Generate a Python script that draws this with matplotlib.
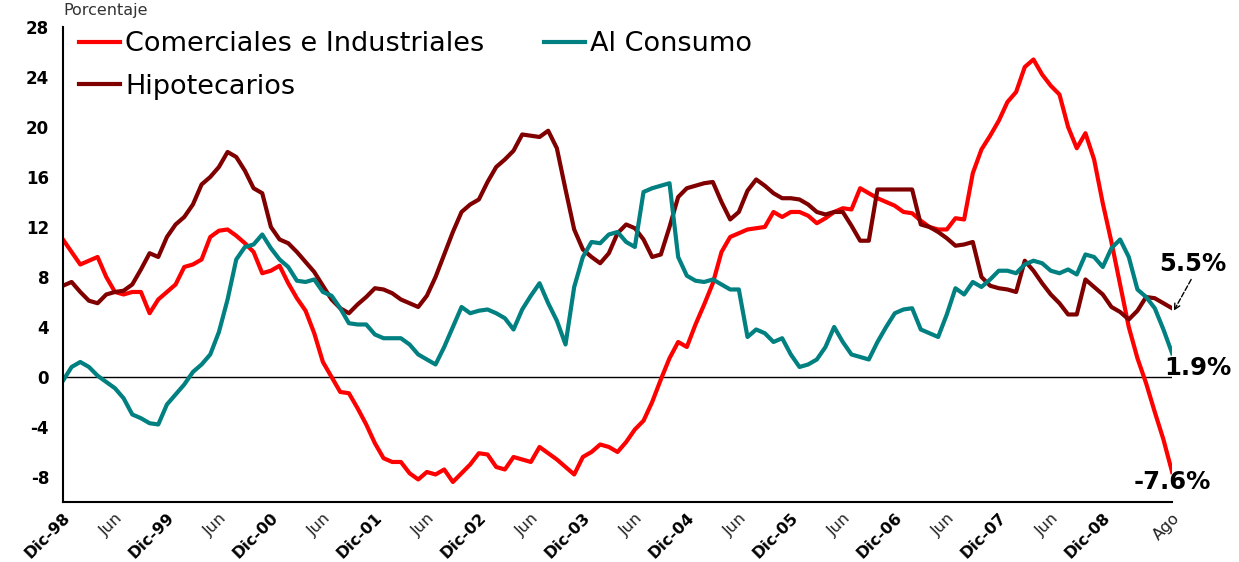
import matplotlib
matplotlib.use("Agg")
import matplotlib.pyplot as plt
import numpy as np

# monthly, Dic-98 .. Ago-09
comerciales = [
    11.0, 10.0, 9.0, 9.3, 9.6, 8.0, 6.8, 6.6, 6.8, 6.8, 5.1, 6.2,
    6.8, 7.4, 8.8, 9.0, 9.4, 11.2, 11.7, 11.8, 11.3, 10.7, 10.0, 8.3,
    8.5, 8.9, 7.5, 6.3, 5.3, 3.5, 1.2, 0.0, -1.2, -1.3, -2.5, -3.8,
    -5.3, -6.5, -6.8, -6.8, -7.7, -8.2, -7.6, -7.8, -7.4, -8.4, -7.7, -7.0,
    -6.1, -6.2, -7.2, -7.4, -6.4, -6.6, -6.8, -5.6, -6.1, -6.6, -7.2, -7.8,
    -6.4, -6.0, -5.4, -5.6, -6.0, -5.2, -4.2, -3.5, -2.0, -0.2, 1.5, 2.8,
    2.4, 4.2, 5.8, 7.5, 10.0, 11.2, 11.5, 11.8, 11.9, 12.0, 13.2, 12.8,
    13.2, 13.2, 12.9, 12.3, 12.7, 13.2, 13.5, 13.4, 15.1, 14.7, 14.3, 14.0,
    13.7, 13.2, 13.1, 12.5, 12.0, 11.8, 11.8, 12.7, 12.6, 16.3, 18.2, 19.3,
    20.5, 22.0, 22.8, 24.8, 25.4, 24.2, 23.3, 22.6, 20.0, 18.3, 19.5, 17.4,
    13.9, 10.8, 7.4, 4.0, 1.5, -0.5, -2.8, -5.0, -7.6,
]
consumo = [
    -0.3, 0.8, 1.2, 0.8, 0.1, -0.4, -0.9, -1.7, -3.0, -3.3, -3.7, -3.8,
    -2.2, -1.4, -0.6, 0.4, 1.0, 1.8, 3.6, 6.2, 9.4, 10.4, 10.6, 11.4,
    10.3, 9.4, 8.8, 7.7, 7.6, 7.8, 6.8, 6.5, 5.5, 4.3, 4.2, 4.2,
    3.4, 3.1, 3.1, 3.1, 2.6, 1.8, 1.4, 1.0, 2.4, 4.0, 5.6, 5.1,
    5.3, 5.4, 5.1, 4.7, 3.8, 5.4, 6.5, 7.5, 5.9, 4.5, 2.6, 7.2,
    9.6, 10.8, 10.7, 11.4, 11.6, 10.8, 10.4, 14.8, 15.1, 15.3, 15.5, 9.6,
    8.1, 7.7, 7.6, 7.8, 7.4, 7.0, 7.0, 3.2, 3.8, 3.5, 2.8, 3.1,
    1.8, 0.8, 1.0, 1.4, 2.4, 4.0, 2.8, 1.8, 1.6, 1.4, 2.8, 4.0,
    5.1, 5.4, 5.5, 3.8, 3.5, 3.2, 5.0, 7.1, 6.6, 7.6, 7.2, 7.8,
    8.5, 8.5, 8.3, 9.0, 9.3, 9.1, 8.5, 8.3, 8.6, 8.2, 9.8, 9.6,
    8.8, 10.3, 11.0, 9.6, 7.0, 6.4, 5.5, 3.8, 1.9,
]
hipotecarios = [
    7.3, 7.6, 6.8, 6.1, 5.9, 6.6, 6.8, 6.9, 7.4, 8.6, 9.9, 9.6,
    11.2, 12.2, 12.8, 13.8, 15.4, 16.0, 16.8, 18.0, 17.6, 16.5, 15.1, 14.7,
    12.0, 11.0, 10.7, 10.0, 9.2, 8.4, 7.3, 6.2, 5.5, 5.1, 5.8, 6.4,
    7.1, 7.0, 6.7, 6.2, 5.9, 5.6, 6.5, 8.0, 9.8, 11.6, 13.2, 13.8,
    14.2, 15.6, 16.8, 17.4, 18.1, 19.4, 19.3, 19.2, 19.7, 18.3, 15.0, 11.8,
    10.2, 9.6, 9.1, 9.9, 11.5, 12.2, 11.9, 11.0, 9.6, 9.8, 12.0, 14.4,
    15.1, 15.3, 15.5, 15.6, 14.0, 12.6, 13.2, 14.9, 15.8, 15.3, 14.7, 14.3,
    14.3, 14.2, 13.8, 13.2, 13.0, 13.2, 13.2, 12.1, 10.9, 10.9, 15.0, 15.0,
    15.0, 15.0, 15.0, 12.2, 12.0, 11.6, 11.1, 10.5, 10.6, 10.8, 8.0, 7.3,
    7.1, 7.0, 6.8, 9.3, 8.5, 7.5, 6.6, 5.9, 5.0, 5.0, 7.8, 7.2,
    6.6, 5.6, 5.2, 4.6, 5.3, 6.4, 6.3, 5.9, 5.5,
]

years = ["98", "99", "00", "01", "02", "03", "04", "05", "06", "07", "08"]
tick_labels = []
for yy in years:
    tick_labels += [f"Dic-{yy}", "Jun"]
tick_labels = tick_labels[:-1] + ["Ago"]
tick_pos = list(range(0, 121, 6)) + [128]

months = np.arange(len(comerciales))

fig = plt.figure(figsize=(12.39, 5.62), dpi=100)
ax = fig.add_axes([0.0508, 0.1068, 0.8952, 0.8452])

ax.axhline(0, color="black", lw=1.0, zorder=1)
ax.plot(months, comerciales, color="#ff0000", lw=3.0, label="Comerciales e Industriales")
ax.plot(months, hipotecarios, color="#800000", lw=3.0, label="Hipotecarios")
ax.plot(months, consumo, color="#008080", lw=3.0, label="Al Consumo")

ax.set_xlim(0, 128)
ax.set_ylim(-10, 28)
ax.set_yticks(range(-8, 29, 4))
ax.set_yticklabels([str(v) for v in range(-8, 29, 4)], fontsize=12, fontweight="bold")
ax.set_xticks(tick_pos)
ax.set_xticklabels(tick_labels, rotation=45, ha="right", rotation_mode="anchor", fontsize=11.5)
for lbl in ax.get_xticklabels():
    if lbl.get_text().startswith("Dic"):
        lbl.set_fontweight("bold")
    else:
        lbl.set_color("#222222")
ax.tick_params(length=0, pad=6)
ax.tick_params(axis="y", pad=10)
ax.spines["top"].set_visible(False)
ax.spines["right"].set_visible(False)
ax.spines["left"].set_linewidth(1.5)
ax.spines["bottom"].set_linewidth(1.5)

ax.text(0.0, 28.7, "Porcentaje", fontsize=11.5, color="#333333", ha="left", va="bottom")

ax.legend(loc="upper left", ncol=2, frameon=False, fontsize=19.5, handlelength=1.5,
          handletextpad=0.2, columnspacing=2.2, labelspacing=0.6,
          bbox_to_anchor=(0.0, 1.025), borderaxespad=0.2)

ax.text(130.4, 9.0, "5.5%", fontsize=17.5, fontweight="bold", ha="center", va="center")
ax.annotate("", xy=(128.2, 5.3), xytext=(130.2, 7.8),
            arrowprops=dict(arrowstyle="->", ls="--", lw=1.0, color="black",
                            shrinkA=0, shrinkB=0),
            annotation_clip=False)
ax.text(131.0, 0.75, "1.9%", fontsize=17.5, fontweight="bold", ha="center", va="center")
ax.text(128.0, -8.4, "-7.6%", fontsize=17.5, fontweight="bold", ha="center", va="center")

fig.savefig("out.png", dpi=100)
